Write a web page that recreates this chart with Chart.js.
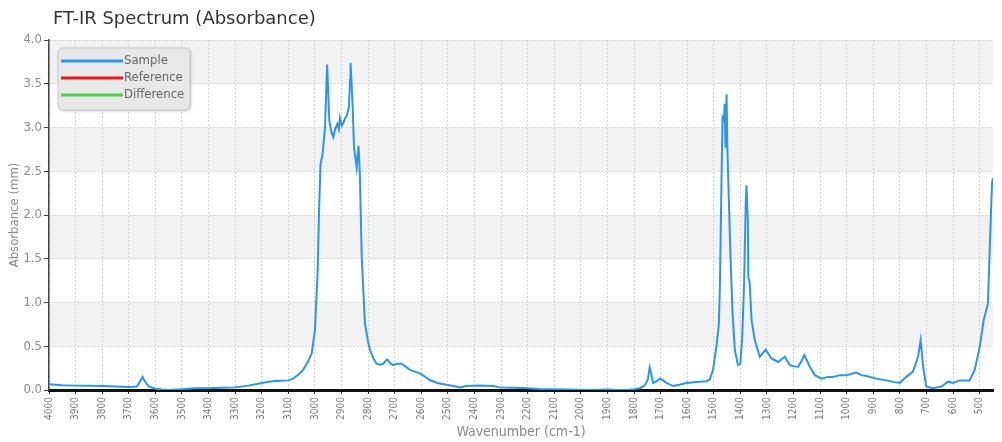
<!DOCTYPE html>
<html>
<head>
<meta charset="utf-8">
<script src="https://cdn.jsdelivr.net/npm/chart.js@4"></script>
<style>
  body { margin: 0; background: #fff; }
  #wrap { position: relative; width: 1002px; height: 442px; }
  #title { position: absolute; left: 53px; top: 7px; font: 18px 'DejaVu Sans', sans-serif; line-height: 22px; color: #333; }
  canvas { position: absolute; left: 0; top: 0; }
</style>
</head>
<body>
<div id="wrap">
  <canvas id="spectrum" width="1002" height="442"></canvas>
  <div id="title">FT-IR Spectrum (Absorbance)</div>
</div>
<script>
const wavenumbers = [4000, 3950, 3900, 3850, 3800, 3750, 3700, 3670, 3655, 3648, 3640, 3625, 3600, 3575, 3550, 3500, 3450, 3400, 3350, 3300,
    3250, 3200, 3160, 3132, 3100, 3082, 3060, 3044, 3025, 3012, 3000, 2990, 2984, 2979, 2971, 2962, 2956, 2954, 2950, 2946,
    2938, 2931, 2924, 2916, 2910, 2906, 2899, 2893, 2887, 2881, 2872, 2868, 2866, 2862, 2858, 2853, 2843, 2839, 2836, 2831,
    2824, 2812, 2800, 2793, 2780, 2768, 2755, 2743, 2735, 2728, 2718, 2706, 2690, 2674, 2660, 2643, 2625, 2605, 2585, 2568,
    2540, 2505, 2470, 2455, 2430, 2380, 2330, 2305, 2250, 2200, 2154, 2100, 2050, 1992, 1950, 1900, 1860, 1828, 1800, 1778,
    1760, 1748, 1741, 1735, 1728, 1715, 1703, 1690, 1678, 1653, 1630, 1603, 1553, 1528, 1515, 1503, 1490, 1481, 1477, 1471,
    1467, 1462, 1459, 1456, 1452, 1449, 1443, 1438, 1430, 1421, 1409, 1400, 1393, 1386, 1380, 1377, 1372, 1370, 1365, 1358,
    1346, 1327, 1305, 1283, 1258, 1233, 1214, 1200, 1183, 1170, 1160, 1150, 1139, 1120, 1095, 1070, 1052, 1026, 1000, 964,
    945, 926, 889, 851, 820, 801, 776, 751, 732, 722, 713, 701, 676, 660, 644, 619, 600, 575, 538, 519,
    500, 485, 469, 462, 456, 453, 450];

const sample = [0.065, 0.055, 0.05, 0.048, 0.045, 0.04, 0.035, 0.04, 0.11, 0.15, 0.10, 0.04, 0.015, 0.005, 0.0, 0.01, 0.02, 0.02, 0.025, 0.03,
    0.05, 0.08, 0.10, 0.106, 0.11, 0.13, 0.18, 0.23, 0.33, 0.42, 0.68, 1.33, 2.09, 2.58, 2.70, 3.00, 3.55, 3.72, 3.40, 3.08,
    2.95, 2.89, 2.98, 3.04, 2.98, 3.11, 3.02, 3.05, 3.10, 3.13, 3.23, 3.55, 3.74, 3.50, 3.23, 2.77, 2.54, 2.70, 2.79, 2.47,
    1.52, 0.76, 0.55, 0.46, 0.36, 0.30, 0.29, 0.30, 0.33, 0.35, 0.31, 0.285, 0.30, 0.30, 0.27, 0.23, 0.21, 0.19, 0.15, 0.114,
    0.08, 0.06, 0.04, 0.03, 0.045, 0.05, 0.045, 0.03, 0.025, 0.02, 0.01, 0.01, 0.005, 0.0, 0.0, 0.005, 0.0, 0.0, 0.01, 0.02,
    0.05, 0.12, 0.26, 0.18, 0.08, 0.10, 0.13, 0.11, 0.08, 0.045, 0.06, 0.08, 0.095, 0.10, 0.12, 0.23, 0.50, 0.75, 1.18, 2.39,
    3.11, 3.08, 3.27, 2.77, 3.38, 2.77, 2.13, 1.60, 0.91, 0.46, 0.285, 0.30, 0.61, 1.22, 2.13, 2.34, 1.94, 1.29, 1.22, 0.80,
    0.57, 0.38, 0.46, 0.36, 0.32, 0.38, 0.285, 0.27, 0.265, 0.33, 0.40, 0.34, 0.265, 0.17, 0.13, 0.15, 0.15, 0.17, 0.17, 0.20,
    0.17, 0.16, 0.13, 0.11, 0.09, 0.08, 0.15, 0.21, 0.38, 0.57, 0.27, 0.04, 0.02, 0.03, 0.04, 0.095, 0.08, 0.11, 0.11, 0.23,
    0.49, 0.80, 0.99, 1.63, 2.17, 2.39, 2.42];

const reference = [];
const difference = [];

const xTicks = [4000, 3900, 3800, 3700, 3600, 3500, 3400, 3300, 3200, 3100, 3000, 2900, 2800, 2700, 2600, 2500, 2400, 2300,
    2200, 2100, 2000, 1900, 1800, 1700, 1600, 1500, 1400, 1300, 1200, 1100, 1000, 900, 800, 700, 600, 500];

const narrow = "'Liberation Sans Narrow', 'DejaVu Sans Condensed', sans-serif";

const toPoints = (xs, ys) => ys.map((y, i) => ({x: xs[i], y: y}));

// alternating grey / white bands between the y grid lines
const bands = {
    id: 'bands',
    beforeDraw(chart) {
        const {ctx, chartArea: a, scales: {y}} = chart;
        ctx.save();
        ctx.fillStyle = '#fff';
        ctx.fillRect(0, 0, chart.width, chart.height);
        ctx.fillStyle = '#f2f2f2';
        for (let v = 3.5; v >= 0; v -= 1.0) {
            const top = y.getPixelForValue(v + 0.5);
            const bot = y.getPixelForValue(v);
            ctx.fillRect(a.left, top, a.right - a.left, bot - top);
        }
        ctx.restore();
    }
};

// legend box floating inside the plot, top left
const boxLegend = {
    id: 'boxLegend',
    afterDraw(chart) {
        const {ctx, chartArea: a} = chart;
        const x = a.left + 9, y = a.top + 8, w = 132, h = 62;
        ctx.save();
        ctx.shadowColor = 'rgba(0,0,0,0.25)';
        ctx.shadowBlur = 3;
        ctx.shadowOffsetX = 1;
        ctx.shadowOffsetY = 1;
        ctx.fillStyle = '#e8e8e8';
        ctx.beginPath();
        ctx.roundRect(x, y, w, h, 5);
        ctx.fill();
        ctx.shadowColor = 'transparent';
        ctx.strokeStyle = '#c8c8c8';
        ctx.lineWidth = 1;
        ctx.stroke();
        ctx.font = '13px ' + narrow;
        ctx.textBaseline = 'middle';
        chart.data.datasets.forEach((ds, i) => {
            const ly = y + 13 + i * 17;
            ctx.strokeStyle = ds.borderColor;
            ctx.lineWidth = 3;
            ctx.beginPath();
            ctx.moveTo(x + 3, ly);
            ctx.lineTo(x + 65, ly);
            ctx.stroke();
            ctx.fillStyle = '#666';
            ctx.fillText(ds.label, x + 66, ly);
        });
        ctx.restore();
    }
};

new Chart(document.getElementById('spectrum'), {
    type: 'line',
    data: {
        datasets: [
            {label: 'Sample', data: toPoints(wavenumbers, sample), borderColor: '#2b95ec', borderWidth: 2},
            {label: 'Reference', data: reference, borderColor: '#e3161b', borderWidth: 2},
            {label: 'Difference', data: difference, borderColor: '#4fcf4f', borderWidth: 2}
        ]
    },
    options: {
        responsive: false,
        animation: false,
        devicePixelRatio: 1,
        layout: {padding: {top: 40, right: 9, left: 0, bottom: 0}},
        elements: {point: {radius: 0}, line: {tension: 0}},
        plugins: {legend: {display: false}, tooltip: {enabled: false}},
        scales: {
            x: {
                type: 'linear',
                reverse: true,
                min: 450,
                max: 4000,
                afterBuildTicks: scale => { scale.ticks = xTicks.map(v => ({value: v})); },
                afterFit: scale => { scale.height = 52; },
                ticks: {
                    autoSkip: false,
                    minRotation: 90,
                    maxRotation: 90,
                    padding: 3,
                    color: '#7a7a7a',
                    font: {family: narrow, size: 10},
                    callback: v => String(v)
                },
                grid: {color: '#d0d0d0', tickColor: '#333', tickLength: 4},
                border: {color: '#111', width: 3, dash: [2, 2]},
                title: {
                    display: true,
                    text: 'Wavenumber (cm-1)',
                    color: '#888',
                    font: {family: narrow, size: 14},
                    padding: {top: 0, bottom: 1}
                }
            },
            y: {
                min: 0,
                max: 4,
                afterFit: scale => { scale.width = 49; },
                ticks: {
                    stepSize: 0.5,
                    padding: 2,
                    color: '#8a8a8a',
                    font: {family: narrow, size: 13},
                    callback: v => v.toFixed(1)
                },
                grid: {color: '#d0d0d0', tickColor: '#444', tickLength: 5},
                border: {color: '#444', width: 1.5, dash: [2, 2]},
                title: {
                    display: true,
                    text: 'Absorbance (mm)',
                    color: '#888',
                    font: {family: narrow, size: 13},
                    padding: {top: 7, bottom: 0}
                }
            }
        }
    },
    plugins: [bands, boxLegend]
});
</script>
</body>
</html>
